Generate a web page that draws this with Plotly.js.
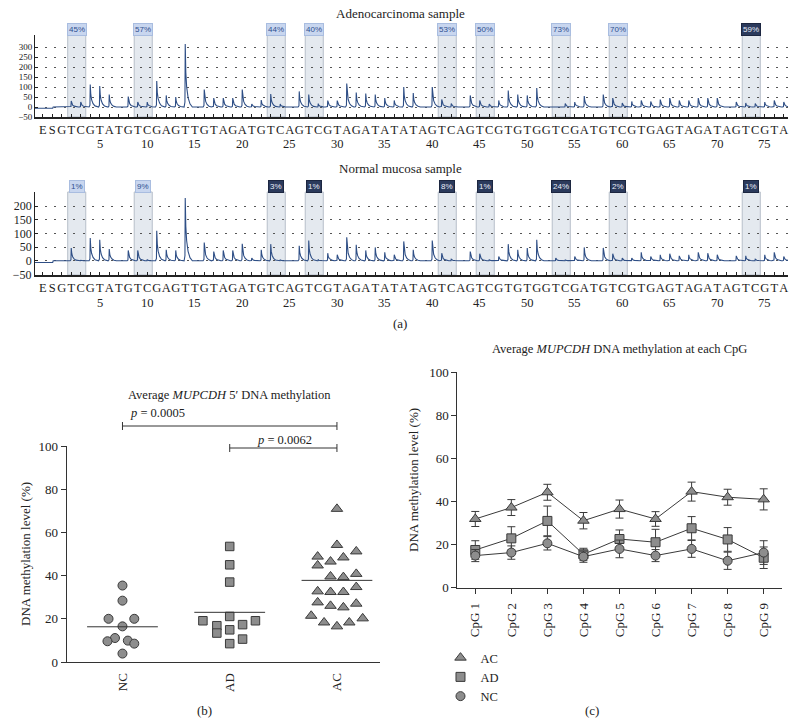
<!DOCTYPE html>
<html><head><meta charset="utf-8">
<script src="https://cdn.plot.ly/plotly-3.0.1.min.js"></script>
<style>body{margin:0;background:#fff}#chart{width:798px;height:725px}</style>
</head><body><div id="chart"></div>
<script>
// ---------- Panel (a): pyrograms ----------
const dispensationPrefix = ['E', 'S'];
const dispensationSeq = 'GTCGTATGTCGAGTTGTAGATGTCAGTCGTAGATATATAGTCAGTCGTGTGGTCGATGTCGTGAGTAGATAGTCGTA'.split('');
const positionNumbers = [5, 10, 15, 20, 25, 30, 35, 40, 45, 50, 55, 60, 65, 70, 75];
const startLevel = [-6, -6];
const adenoHeights = [0,30,25,112,105,62,0,52,25,25, 130,58,50,315,0,87,45,45,45,87,
  15,35,65,15,0,78,62,17,32,32, 117,72,67,62,45,33,100,70,0,100,
  38,17,0,58,33,15,33,83,62,58, 95,0,0,17,25,55,0,62,45,20,
  28,33,28,37,45,33,33,45,45,45, 0,25,20,17,25,33,25];
const normalHeights = [0,47,2,83,77,43,0,38,38,4, 110,40,38,230,0,67,34,38,38,62,
  10,40,61,3,0,55,74,4,28,22, 86,59,38,49,31,22,71,40,0,74,
  28,6,0,34,26,4,16,61,40,47, 77,0,10,3,16,49,0,47,26,10,
  10,31,16,22,26,18,22,31,28,22, 0,18,18,6,22,31,16];
const cpgSites = [2, 9, 23, 27, 41, 45, 53, 59, 73];
const adenoPercent = ['45%','57%','44%','40%','53%','50%','73%','70%','59%'];
const adenoDark = [false,false,false,false,false,false,false,false,true];
const normalPercent = ['1%','9%','3%','1%','8%','1%','24%','2%','1%'];
const normalDark = [false,false,true,true,true,true,true,true,true];

// ---------- Panel (b): scatter ----------
const groups = ['NC', 'AD', 'AC'];
const ncValues = [35.4, 28.4, 20.0, 20.0, 16.5, 11.1, 9.6, 9.9, 8.5, 3.9];
const ncJitter = [0, 0, -0.13, 0.11, 0, -0.07, -0.14, 0.05, 0.11, 0];
const adValues = [53.5, 45.0, 37.0, 21.1, 19.1, 19.1, 16.8, 17.3, 13.4, 14.9, 10.6, 8.5];
const adJitter = [0, 0, 0, 0, -0.25, 0.24, -0.12, 0.12, -0.12, 0, 0.12, 0];
const acValues = [70.9, 54.2, 48.8, 51.2, 46.5, 48.4, 44.7, 39.6, 39.3, 40.8, 32.7, 32.4, 32.4, 34.7,
  27.6, 26.0, 25.3, 27.0, 21.4, 18.3, 16.5, 18.3, 20.2];
const acJitter = [0, 0, -0.18, 0.18, -0.06, 0.06, -0.18, -0.06, 0.06, 0.18, -0.18, -0.06, 0.06, 0.18,
  -0.18, -0.06, 0.06, 0.18, -0.24, -0.12, 0, 0.115, 0.24];
const groupMeans = [16.3, 23.0, 37.8];

// ---------- Panel (c): per-CpG means ----------
const cpgLabels = ['CpG 1','CpG 2','CpG 3','CpG 4','CpG 5','CpG 6','CpG 7','CpG 8','CpG 9'];
const acCpG = [31.9, 37.2, 44.3, 31.1, 36.5, 31.9, 44.6, 42.0, 41.0];
const acErr = [3.5, 3.7, 3.7, 3.8, 4.2, 3.4, 4.4, 3.7, 4.9];
const adCpG = [17.5, 22.9, 31.0, 15.5, 22.6, 21.1, 27.6, 22.4, 13.9];
const adErr = [4.3, 5.4, 6.9, 2.8, 4.2, 6.0, 5.4, 5.5, 5.0];
const ncCpG = [14.9, 16.3, 20.6, 14.4, 18.0, 14.9, 18.0, 12.5, 16.3];
const ncErr = [2.8, 3.1, 3.1, 2.6, 4.1, 2.8, 3.9, 4.0, 5.5];

// ---------- build ----------
const serif = 'Liberation Serif, Times New Roman, serif';
const xLeft = -1.81, xRight = 77.45;
const allLetters = dispensationPrefix.concat(dispensationSeq);
const allPos = allLetters.map((_, i) => i - 1);

function pyrogram(heights) {
  const xs = [xLeft, 0.05], ys = [startLevel[0], startLevel[1]];
  xs.push(0.1); ys.push(0);
  heights.forEach((h, i) => {
    const p = i + 1;
    if (h <= 0) return;
    xs.push(p - 0.12, p - 0.03, p, p + 0.06, p + 0.15, p + 0.3, p + 0.5, p + 0.75);
    ys.push(0, h * 0.08, h, h * 0.55, h * 0.32, h * 0.15, h * 0.05, 0);
  });
  xs.push(xRight); ys.push(0);
  return {xs, ys};
}

const traces = [];
const pyroTop = pyrogram(adenoHeights), pyroBot = pyrogram(normalHeights);
traces.push({x: pyroTop.xs, y: pyroTop.ys, xaxis: 'x', yaxis: 'y', mode: 'lines', line: {color: '#2f4f86', width: 1.1}, showlegend: false, hoverinfo: 'skip'});
traces.push({x: pyroBot.xs, y: pyroBot.ys, xaxis: 'x2', yaxis: 'y2', mode: 'lines', line: {color: '#2f4f86', width: 1.1}, showlegend: false, hoverinfo: 'skip'});

const mFill = '#8d8d8d', mLine = '#3a3a3a';
function scat(vals, jit, gi, sym, size) {
  return {x: vals.map((_, i) => gi + jit[i]), y: vals, xaxis: 'x3', yaxis: 'y3', mode: 'markers', cliponaxis: false,
    marker: {symbol: sym, size: size, color: mFill, line: {color: mLine, width: 1}}, showlegend: false};
}
traces.push(scat(ncValues, ncJitter, 0, 'circle', 9));
traces.push(scat(adValues, adJitter, 1, 'square', 8.5));
traces.push(scat(acValues, acJitter, 2, 'triangle-up', 10));
groupMeans.forEach((m, gi) => {
  traces.push({x: [gi - 0.33, gi + 0.33], y: [m, m], xaxis: 'x3', yaxis: 'y3', mode: 'lines', line: {color: '#333', width: 1}, showlegend: false});
});

const cpgX = cpgLabels.map((_, i) => i + 1);
function cline(vals, err, sym, size) {
  return {x: cpgX, y: vals, xaxis: 'x4', yaxis: 'y4', mode: 'lines+markers', cliponaxis: false,
    line: {color: '#3a3a3a', width: 1},
    marker: {symbol: sym, size: size, color: mFill, line: {color: mLine, width: 1}},
    error_y: {type: 'data', array: err, visible: true, color: '#3a3a3a', thickness: 1, width: 4}, showlegend: false};
}
traces.push(cline(acCpG, acErr, 'triangle-up', 10));
traces.push(cline(adCpG, adErr, 'square', 9));
traces.push(cline(ncCpG, ncErr, 'circle', 9));
[['AC', 'triangle-up', 10], ['AD', 'square', 9], ['NC', 'circle', 9]].forEach(([n, s, z]) => {
  traces.push({x: [null], y: [null], xaxis: 'x4', yaxis: 'y4', mode: 'markers', name: n, showlegend: true,
    marker: {symbol: s, size: z, color: mFill, line: {color: mLine, width: 1}}});
});

// shapes & annotations
const shapes = [], annotations = [];
const C = {xanchor: 'center', yanchor: 'middle'};
function pyroDecor(xref, yref, percents, darks, badgeY) {
  cpgSites.forEach((t, i) => {
    shapes.push({type: 'rect', xref: xref, yref: yref + ' domain', x0: t - 0.37, x1: t + 1.53, y0: 0, y1: 1,
      fillcolor: '#e4e9ef', line: {color: '#b7bfca', width: 1}, layer: 'below'});
    annotations.push(Object.assign({xref: xref, yref: 'paper', x: t + 0.58, y: badgeY, text: percents[i], showarrow: false,
      font: {family: 'Liberation Sans, Arial, sans-serif', size: 8, color: darks[i] ? '#e8eefa' : '#2f4f8f'},
      bgcolor: darks[i] ? '#2b3a5c' : '#c8d6ef', bordercolor: darks[i] ? '#1c2640' : '#a9bde0', borderwidth: 1, borderpad: 1}, C));
  });
}
pyroDecor('x', 'y', adenoPercent, adenoDark, 1 - 29 / 725);
pyroDecor('x2', 'y2', normalPercent, normalDark, 1 - 186 / 725);
positionNumbers.forEach(n => {
  annotations.push(Object.assign({xref: 'x', yref: 'paper', x: n, y: 1 - 144.5 / 725, text: String(n), showarrow: false, font: {family: serif, size: 12.5, color: '#222'}}, C));
  annotations.push(Object.assign({xref: 'x2', yref: 'paper', x: n, y: 1 - 302.5 / 725, text: String(n), showarrow: false, font: {family: serif, size: 12.5, color: '#222'}}, C));
});
const T = (text, xp, yp, size, extra) => annotations.push(Object.assign({xref: 'paper', yref: 'paper', x: xp / 798, y: 1 - yp / 725, text: text, showarrow: false, font: {family: serif, size: size, color: '#222'}}, C, extra || {}));
T('Adenocarcinoma sample', 400, 14, 13);
T('Normal mucosa sample', 400, 168, 13);
T('(a)', 400, 323, 13);
T('(b)', 204, 710, 13);
T('(c)', 592, 710, 13);
T('Average <i>MUPCDH</i> 5\u2032 DNA methylation', 229, 395, 12.5);
T('Average <i>MUPCDH</i> DNA methylation at each CpG', 619, 349, 12.5);
T('DNA methylation level (%)', 25, 554, 13, {textangle: -90});
T('DNA methylation level (%)', 413, 480, 13, {textangle: -90});
// significance brackets
function bracket(xa, xb, yp) {
  const y = 1 - yp / 725, cap = 4 / 725;
  shapes.push({type: 'line', xref: 'x3', yref: 'paper', x0: xa, x1: xb, y0: y, y1: y, line: {color: '#333', width: 1}});
  shapes.push({type: 'line', xref: 'x3', yref: 'paper', x0: xa, x1: xa, y0: y - cap, y1: y + cap, line: {color: '#333', width: 1}});
  shapes.push({type: 'line', xref: 'x3', yref: 'paper', x0: xb, x1: xb, y0: y - cap, y1: y + cap, line: {color: '#333', width: 1}});
}
bracket(0, 2, 426);
bracket(1, 2, 448);
annotations.push(Object.assign({xref: 'x3', yref: 'paper', x: 0.33, y: 1 - 413 / 725, text: '<i>p</i> = 0.0005', showarrow: false, font: {family: serif, size: 12.5, color: '#222'}}, C));
annotations.push(Object.assign({xref: 'x3', yref: 'paper', x: 1.51, y: 1 - 440 / 725, text: '<i>p</i> = 0.0062', showarrow: false, font: {family: serif, size: 12.5, color: '#222'}}, C));

const tf = {family: serif, size: 13, color: '#222'};
const pyroX = () => ({domain: [0.0439, 0.9875], range: [xLeft, xRight], tickvals: allPos, ticktext: allLetters, tickangle: 0,
  tickfont: {family: serif, size: 12.5, color: '#222'}, ticks: 'inside', ticklen: 3, tickcolor: '#222',
  showline: true, linecolor: '#222', linewidth: 2, showgrid: false, zeroline: false, fixedrange: true});
const pyroY = (dom, rng, vals, fs) => ({domain: dom, range: rng, tickvals: vals, tickfont: {family: serif, size: fs, color: '#222'}, ticks: 'inside', ticklen: 3, tickcolor: '#222',
  showline: true, linecolor: '#222', linewidth: 1, showgrid: true, gridcolor: '#555', gridwidth: 1, griddash: '2px,7.5px', zeroline: false, fixedrange: true});

const layout = {
  width: 798, height: 725, margin: {l: 0, r: 0, t: 0, b: 0}, paper_bgcolor: '#fff', plot_bgcolor: 'rgba(0,0,0,0)',
  font: {family: serif, size: 13, color: '#222'},
  xaxis: Object.assign(pyroX(), {anchor: 'y'}),
  yaxis: Object.assign(pyroY([0.8386, 0.9517], [-50, 360], [-50, 0, 50, 100, 150, 200, 250, 300], 9), {anchor: 'x'}),
  xaxis2: Object.assign(pyroX(), {anchor: 'y2'}),
  yaxis2: Object.assign(pyroY([0.6207, 0.7352], [-52, 252], [-50, 0, 50, 100, 150, 200], 12), {anchor: 'x2'}),
  xaxis3: {domain: [0.0836, 0.476], range: [-0.52, 2.4], tickvals: [0, 1, 2], ticktext: groups, tickangle: -90, tickfont: tf,
    ticks: 'outside', ticklen: 5, tickcolor: 'rgba(0,0,0,0)', showline: true, linecolor: '#333', showgrid: false, zeroline: false, anchor: 'y3'},
  yaxis3: {domain: [0.0869, 0.3848], range: [0, 100], dtick: 20, tickfont: tf, ticks: 'outside', ticklen: 5, tickcolor: '#333',
    showline: true, linecolor: '#333', showgrid: false, zeroline: false, anchor: 'x3'},
  xaxis4: {domain: [0.573, 0.9796], range: [0.5, 9.5], tickvals: cpgX, ticktext: cpgLabels, tickangle: -90, tickfont: tf,
    ticks: 'outside', ticklen: 5, tickcolor: '#333', ticklabelstandoff: 4, showline: true, linecolor: '#333', showgrid: false, zeroline: false, anchor: 'y4'},
  yaxis4: {domain: [0.1894, 0.4865], range: [0, 100], dtick: 20, tickfont: tf, ticks: 'outside', ticklen: 5, tickcolor: '#333',
    showline: true, linecolor: '#333', showgrid: false, zeroline: false, anchor: 'x4'},
  showlegend: true,
  legend: {x: 0.552, y: 1 - 643 / 725, xanchor: 'left', yanchor: 'top', font: {family: serif, size: 12.5, color: '#222'},
    itemwidth: 30, tracegroupgap: 0, bgcolor: 'rgba(0,0,0,0)'},
  shapes: shapes, annotations: annotations
};
Plotly.newPlot('chart', traces, layout, {staticPlot: true, displayModeBar: false});
</script>
</body></html>
